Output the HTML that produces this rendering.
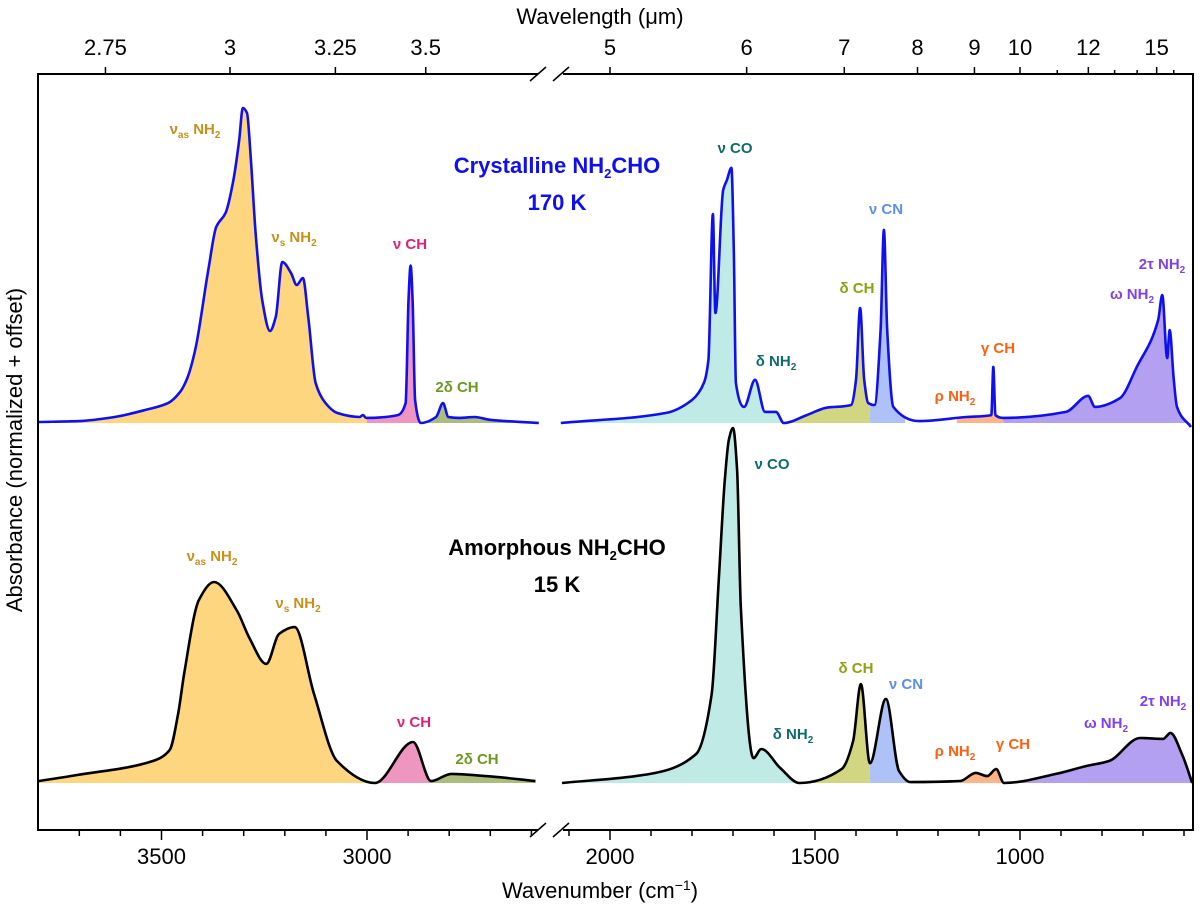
<!DOCTYPE html>
<html><head><meta charset="utf-8"><style>
body{margin:0;background:#fff;}
svg{display:block;font-family:"Liberation Sans",sans-serif;}
.lab{font-size:15px;font-weight:bold;}
</style></head><body>
<svg id="chart" width="1200" height="905" viewBox="0 0 1200 905"></svg>
<script>
// ---- data ----
const crystLeftWn=[3800,3700,3614,3540,3484,3455,3437,3418,3385,3367,3344,3325,3311,3302,3292,3283,3271,3255,3236,3222,3206,3185,3171,3156,3143,3125,3101,3073,3018,3010,3002,2925,2906,2899,2894,2889,2883,2869,2832,2815,2802,2776,2738,2701,2582];
const crystLeftA=[0.003,0.006,0.019,0.041,0.063,0.098,0.143,0.232,0.495,0.622,0.667,0.771,0.898,1.0,0.984,0.844,0.603,0.39,0.292,0.337,0.511,0.476,0.438,0.46,0.337,0.127,0.063,0.032,0.019,0.025,0.016,0.025,0.063,0.39,0.5,0.39,0.073,0,0.019,0.063,0.019,0.016,0.019,0.01,0];
const crystRightWn=[2120,1863,1800,1771,1760,1749,1743,1724,1715,1704,1698,1693,1673,1646,1622,1595,1576,1520,1473,1412,1400,1390,1380,1370,1355,1340,1332,1324,1309,1246,1130,1070,1065,1060,1041,888,834,817,756,715,663,653,641,635,625,617,583];
const crystRightA=[0,0.032,0.073,0.127,0.2,0.663,0.349,0.74,0.771,0.81,0.549,0.127,0.051,0.137,0.035,0.035,0,0.025,0.048,0.057,0.137,0.365,0.137,0.063,0.057,0.295,0.613,0.295,0.051,0.006,0.019,0.025,0.178,0.025,0.016,0.035,0.086,0.051,0.079,0.178,0.327,0.406,0.206,0.295,0.137,0.051,-0.013];
const amorLeftWn=[3800,3707,3521,3480,3460,3445,3409,3372,3316,3287,3245,3214,3176,3129,3073,2981,2888,2844,2795,2710,2590];
const amorLeftA=[0.006,0.025,0.07,0.105,0.216,0.346,0.581,0.638,0.546,0.463,0.378,0.473,0.495,0.283,0.07,0,0.13,0.006,0.029,0.022,0.006];
const amorRightWn=[2117,1902,1790,1752,1734,1720,1710,1700,1690,1681,1650,1631,1585,1538,1435,1407,1388,1366,1327,1295,1267,1146,1108,1080,1058,1039,912,838,783,707,651,633,605,580];
const amorRightA=[0,0.029,0.092,0.283,0.663,0.962,1.09,1.127,0.994,0.559,0.079,0.108,0.048,0,0.044,0.133,0.314,0.063,0.267,0.038,0.003,0.006,0.032,0.022,0.044,0,0.029,0.054,0.07,0.143,0.14,0.159,0.092,0];
const bottomTicks=[3500,3000,2000,1500,1000];
const topTicksLeft=[2.75,3,3.25,3.5];
const topTicksRight=[5,6,7,8,9,10,12,15];
const topMinorRight=[11,13,14,16];
const crystOffset=1.143;

// ---- scales ----
const xL=w=>367+(3000-w)*0.411;
const xR=w=>610+(2000-w)*0.41;
const xAny=w=>w>2300?xL(w):xR(w);
const yS=a=>783-a*315;
const NS="http://www.w3.org/2000/svg";
const svg=document.getElementById('chart');
function mk(tag,attrs,parent){const e=document.createElementNS(NS,tag);for(const k in attrs)e.setAttribute(k,attrs[k]);(parent||svg).appendChild(e);return e;}

// monotone cubic path (Fritsch-Carlson)
function monoPath(p){
  const n=p.length;const dx=[],s=[];
  for(let i=0;i<n-1;i++){dx[i]=p[i+1][0]-p[i][0];s[i]=(p[i+1][1]-p[i][1])/dx[i];}
  const m=[s[0]];
  for(let i=1;i<n-1;i++){m[i]=(s[i-1]*s[i]<=0)?0:3*(dx[i-1]+dx[i])/((2*dx[i]+dx[i-1])/s[i-1]+(dx[i]+2*dx[i-1])/s[i]);}
  m[n-1]=s[n-2];
  let d=`M${p[0][0].toFixed(1)},${p[0][1].toFixed(1)}`;
  for(let i=0;i<n-1;i++){const h=dx[i]/3;
    d+=`C${(p[i][0]+h).toFixed(1)},${(p[i][1]+m[i]*h).toFixed(1)} ${(p[i+1][0]-h).toFixed(1)},${(p[i+1][1]-m[i+1]*h).toFixed(1)} ${p[i+1][0].toFixed(1)},${p[i+1][1].toFixed(1)}`;}
  return d;
}

let clipId=0;
function series(wn,A,off,xs,color,regions,name){
  const pts=wn.map((w,i)=>[xs(w),yS(A[i]+off)]);
  const base=yS(off);
  const d=monoPath(pts);
  const area=d+`L${pts[pts.length-1][0]},${base}L${pts[0][0]},${base}Z`;
  regions.forEach(r=>{
    const id='c'+(clipId++);
    const cp=mk('clipPath',{id:id});
    const a=xs(r[0]),b=xs(r[1]);
    mk('rect',{x:Math.min(a,b),y:0,width:Math.abs(b-a),height:905},cp);
    const f=mk('path',{d:area,fill:r[2],'clip-path':`url(#${id})`});
    
    
  });
  const l=mk('path',{d:d,fill:'none',stroke:color,'stroke-width':2.6,'stroke-linejoin':'round'});
  
  
}
const Y='#FFD680',P='#EE96C0',G='#AABD7A',C='#BFEAE6',O='#D3D680',B='#AEC2F8',OR='#FFB386',PU='#B3A0F0';
series(crystLeftWn,crystLeftA,crystOffset,xL,'#1010EE',[[3800,3000,Y,'nh2'],[3000,2869,P,'ch'],[2869,2582,G,'2dch']],'crystalline-left');
series(crystRightWn,crystRightA,crystOffset,xR,'#1010EE',[[2120,1576,C,'co'],[1576,1366,O,'dch'],[1366,1280,B,'cn'],[1154,1041,OR,'gch'],[1041,583,PU,'nh2']],'crystalline-right');
series(amorLeftWn,amorLeftA,0,xL,'#000',[[3800,2981,Y,'nh2'],[2981,2844,P,'ch'],[2844,2590,G,'2dch']],'amorphous-left');
series(amorRightWn,amorRightA,0,xR,'#000',[[2117,1538,C,'co'],[1538,1366,O,'dch'],[1366,1267,B,'cn'],[1146,1039,OR,'gch'],[1039,580,PU,'nh2']],'amorphous-right');

// ---- axes ----
const ax={stroke:'#000','stroke-width':2,fill:'none'};
mk('path',Object.assign({d:'M538,74H38V830H538'},ax));
mk('path',Object.assign({d:'M563,74H1193V830H563'},ax));
[[74],[830]].forEach(([y])=>{
  mk('path',{d:`M530,${y+7}L546,${y-7}M553,${y+7}L569,${y-7}`,stroke:'#000','stroke-width':1.5,fill:'none'});
});
for(let w=3700;w>=2600;w-=100){const x=xL(w);mk('line',{x1:x,x2:x,y1:830,y2:w%500?836:840,stroke:'#000','stroke-width':1.5});}
for(let w=2100;w>=600;w-=100){const x=xR(w);if(x<1192)mk('line',{x1:x,x2:x,y1:830,y2:w%500?836:840,stroke:'#000','stroke-width':1.5});}
bottomTicks.forEach(w=>{const t=mk('text',{x:xAny(w),y:864,'text-anchor':'middle','font-size':22});t.textContent=w;
 
 });
topTicksLeft.concat(topTicksRight).forEach(l=>{const x=xAny(10000/l);mk('line',{x1:x,x2:x,y1:74,y2:67,stroke:'#000','stroke-width':1.5});
 const t=mk('text',{x:x,y:55,'text-anchor':'middle','font-size':22});t.textContent=l;
 
 });
topMinorRight.forEach(l=>{const x=xR(10000/l);mk('line',{x1:x,x2:x,y1:74,y2:70,stroke:'#000','stroke-width':1.5});});

function txt(x,y,s,attrs,name){const t=mk('text',Object.assign({x:x,y:y},attrs||{}));t.innerHTML=s;return t;}
txt(600,24,'Wavelength (μm)',{'text-anchor':'middle','font-size':22},'top-axis-title');
txt(600,898,'Wavenumber (cm<tspan dy="-8" font-size="14">−1</tspan><tspan dy="8">)</tspan>',{'text-anchor':'middle','font-size':22},'x-axis-title');
txt(0,0,'Absorbance (normalized + offset)',{'text-anchor':'middle','font-size':22,transform:'translate(22,450) rotate(-90)'},'y-axis-title');

txt(557,173,'Crystalline NH<tspan dy="5" font-size="13">2</tspan><tspan dy="-5">CHO</tspan>',{'text-anchor':'middle','font-size':22,'font-weight':'bold',fill:'#1010EE'},'crystalline-title');
txt(557,210,'170 K',{'text-anchor':'middle','font-size':22,'font-weight':'bold',fill:'#1010EE'},'crystalline-temp');
txt(557,555,'Amorphous NH<tspan dy="5" font-size="13">2</tspan><tspan dy="-5">CHO</tspan>',{'text-anchor':'middle','font-size':22,'font-weight':'bold',fill:'#000'},'amorphous-title');
txt(557,592,'15 K',{'text-anchor':'middle','font-size':22,'font-weight':'bold',fill:'#000'},'amorphous-temp');

const sub=(s)=>`<tspan dy="4" font-size="10">${s}</tspan><tspan dy="-4">`;
const NH2='NH<tspan dy="4" font-size="10">2</tspan>';
function band(x,y,html,col,name){txt(x,y,html,{class:'lab',fill:col,'text-anchor':'middle'},name);}
const GO='#C8901A',PK='#E0207A',GR='#6B9A20',TE='#0E6B6B',OL='#8FA010',BL='#5E8EF0',RO='#FF6010',VI='#8040F0';
band(195,134,'ν'+sub('as')+' '+NH2+'</tspan>',GO,'label-nuas-nh2-cryst');
band(294,242,'ν'+sub('s')+' '+NH2+'</tspan>',GO,'label-nus-nh2-cryst');
band(410,249,'ν CH',PK,'label-nuch-cryst');
band(457,392,'2δ CH',GR,'label-2dch-cryst');
band(735,153,'ν CO',TE,'label-nuco-cryst');
band(776,366,'δ '+NH2,TE,'label-dnh2-cryst');
band(857,293,'δ CH',OL,'label-dch-cryst');
band(886,214,'ν CN',BL,'label-nucn-cryst');
band(955,401,'ρ '+NH2,RO,'label-rho-nh2-cryst');
band(998,353,'γ CH',RO,'label-gch-cryst');
band(1162,269,'2τ '+NH2,VI,'label-2tau-nh2-cryst');
band(1132,299,'ω '+NH2,VI,'label-omega-nh2-cryst');
band(212,561,'ν'+sub('as')+' '+NH2+'</tspan>',GO,'label-nuas-nh2-amor');
band(298,608,'ν'+sub('s')+' '+NH2+'</tspan>',GO,'label-nus-nh2-amor');
band(414,727,'ν CH',PK,'label-nuch-amor');
band(477,764,'2δ CH',GR,'label-2dch-amor');
band(772,469,'ν CO',TE,'label-nuco-amor');
band(793,739,'δ '+NH2,TE,'label-dnh2-amor');
band(856,673,'δ CH',OL,'label-dch-amor');
band(906,689,'ν CN',BL,'label-nucn-amor');
band(955,756,'ρ '+NH2,RO,'label-rho-nh2-amor');
band(1013,749,'γ CH',RO,'label-gch-amor');
band(1106,728,'ω '+NH2,VI,'label-omega-nh2-amor');
band(1163,706,'2τ '+NH2,VI,'label-2tau-nh2-amor');
</script>
</body></html>
